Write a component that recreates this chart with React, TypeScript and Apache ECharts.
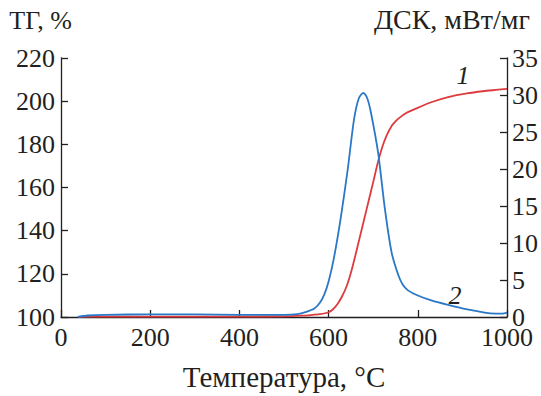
import React, { useEffect, useRef } from "react";
import * as echarts from "echarts";

const tgTemps = [38, 100, 200, 300, 400, 500, 540, 560, 580, 600, 610, 620, 630, 640, 650, 660, 670, 680, 690, 700, 711, 720, 730, 741, 750, 760, 775, 794, 830, 870, 910, 946, 975, 1000];
const tgValues = [100.1, 100.2, 100.2, 100.2, 100.2, 100.3, 100.6, 100.9, 101.3, 102.2, 103.6, 106.0, 109.5, 114.0, 120.5, 128.5, 137.0, 145.5, 154.0, 162.5, 172.0, 178.5, 184.0, 188.4, 190.6, 192.5, 194.6, 196.4, 199.5, 202.0, 203.6, 204.6, 205.2, 205.7];

const dscTemps = [38, 60, 100, 200, 300, 400, 500, 530, 550, 567, 580, 590, 600, 612, 627, 643, 657, 668, 678, 687, 695, 711, 726, 741, 756, 766, 778, 800, 832, 870, 908, 950, 975, 990, 1000];
const dscValues = [0.02, 0.2, 0.3, 0.35, 0.35, 0.3, 0.3, 0.4, 0.7, 1.1, 1.9, 3.0, 4.8, 8.0, 13.3, 20.0, 26.7, 29.6, 30.3, 29.5, 27.6, 22.2, 14.7, 8.8, 5.7, 4.4, 3.6, 2.9, 2.2, 1.6, 1.05, 0.6, 0.46, 0.45, 0.6];

const xTicks = [0, 200, 400, 600, 800, 1000];
const leftTicks = [100, 120, 140, 160, 180, 200, 220];
const rightTicks = [0, 5, 10, 15, 20, 25, 30, 35];

const FONT = "'Liberation Serif', 'DejaVu Serif', 'Times New Roman', Times, serif";
const TXT = "#231f20";

export default function App() {
  const ref = useRef<HTMLDivElement>(null);
  useEffect(() => {
    if (!ref.current) return;
    const chart = echarts.init(ref.current, undefined, { renderer: "svg" });
    const labelStyle = { color: TXT, fontFamily: FONT, fontSize: 26, fontWeight: "normal" as const };
    const axisCommon = {
      axisLine: { show: true, lineStyle: { color: TXT, width: 1.3 } },
      axisTick: { show: true, inside: true, length: 7, lineStyle: { color: TXT, width: 1.3 } },
      splitLine: { show: false },
    };
    chart.setOption({
      animation: false,
      backgroundColor: "#ffffff",
      textStyle: { fontFamily: FONT, fontSize: 26 },
      grid: { left: 61, right: 34, top: 58, bottom: 73, containLabel: false },
      xAxis: {
        type: "value",
        min: xTicks[0],
        max: xTicks[xTicks.length - 1],
        interval: 200,
        name: "Температура, °C",
        nameLocation: "middle",
        nameGap: 45,
        nameTextStyle: { ...labelStyle, fontSize: 29 },
        ...axisCommon,
        axisLabel: { ...labelStyle, margin: 7, formatter: (v: number) => String(v) },
      },
      yAxis: [
        {
          type: "value",
          min: leftTicks[0],
          max: leftTicks[leftTicks.length - 1],
          interval: 20,
          name: "ТГ, %",
          nameLocation: "end",
          nameGap: 25,
          nameTextStyle: { ...labelStyle, align: "right", padding: [0, -11, 0, 0] },
          ...axisCommon,
          axisLabel: { ...labelStyle, margin: 6, formatter: (v: number) => String(v) },
        },
        {
          type: "value",
          position: "right",
          min: rightTicks[0],
          max: rightTicks[rightTicks.length - 1],
          interval: 5,
          name: "ДСК, мВт/мг",
          nameLocation: "end",
          nameGap: 25,
          nameTextStyle: { ...labelStyle, fontSize: 28, align: "right", padding: [0, -23, 0, 0] },
          ...axisCommon,
          axisLabel: { ...labelStyle, margin: 5, formatter: (v: number) => String(v) },
        },
      ],
      series: [
        {
          name: "1",
          type: "line",
          yAxisIndex: 0,
          data: tgTemps.map((t, i) => [t, tgValues[i]]),
          showSymbol: false,
          smooth: 0.25,
          lineStyle: { color: "#dd3b3e", width: 1.8 },
          z: 3,
        },
        {
          name: "2",
          type: "line",
          yAxisIndex: 1,
          data: dscTemps.map((t, i) => [t, dscValues[i]]),
          showSymbol: false,
          smooth: 0.25,
          lineStyle: { color: "#2a78c6", width: 1.8 },
          z: 4,
        },
      ],
      graphic: [
        {
          type: "text",
          x: 463,
          y: 75,
          style: { text: "1", fill: TXT, fontFamily: FONT, fontSize: 26, fontStyle: "italic", align: "center", verticalAlign: "middle" },
        },
        {
          type: "text",
          x: 455,
          y: 295,
          style: { text: "2", fill: TXT, fontFamily: FONT, fontSize: 26, fontStyle: "italic", align: "center", verticalAlign: "middle" },
        },
      ],
    });
    return () => chart.dispose();
  }, []);
  return (
    <div
      ref={ref}
      style={{ position: "absolute", left: 0, top: 0, width: 541, height: 396, background: "#fff", fontFamily: FONT }}
    />
  );
}
